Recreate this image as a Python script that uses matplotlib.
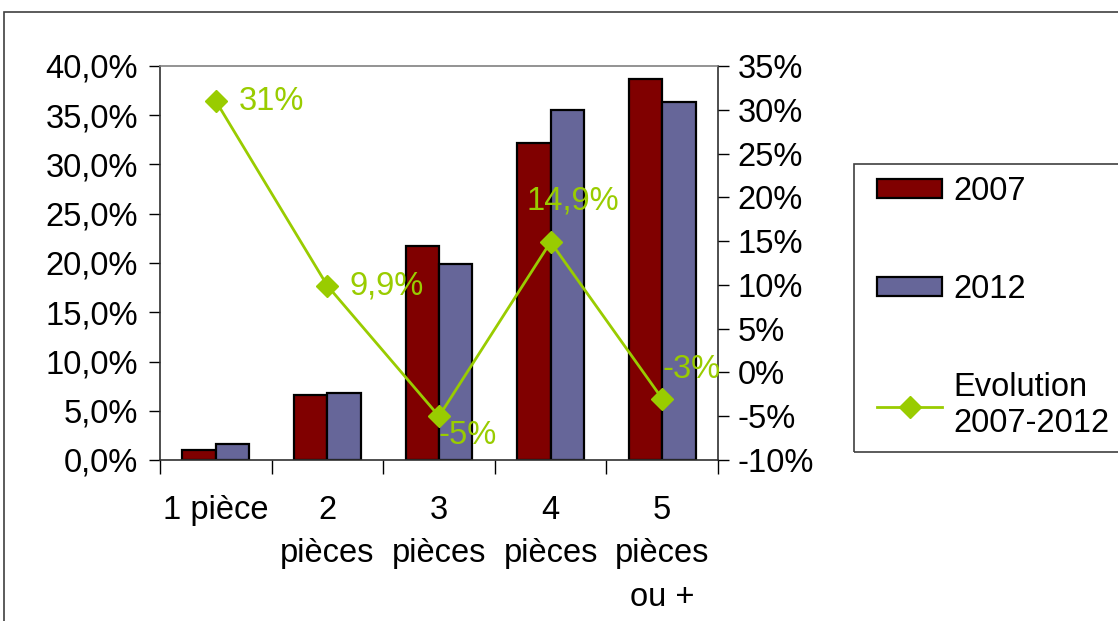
import matplotlib
matplotlib.use("Agg")
import matplotlib.pyplot as plt
import matplotlib.patches as mpatches
from matplotlib.lines import Line2D
from matplotlib.ticker import FuncFormatter
import numpy as np

plt.rcParams["font.family"] = ["Liberation Sans", "DejaVu Sans"]

categories = ["1 pièce", "2\npièces", "3\npièces", "4\npièces", "5\npièces\nou +"]
share_2007 = [1.0, 6.6, 21.7, 32.2, 38.7]
share_2012 = [1.6, 6.8, 19.9, 35.5, 36.3]
evolution = [31.0, 9.9, -5.0, 14.9, -3.0]
evolution_labels = ["31%", "9,9%", "-5%", "14,9%", "-3%"]
# label offsets in pixels (dx, dy)
label_pos = [(23, 0), (22, 0), (0, -19), (-24, 41), (0, 29)]

C2007 = "#800000"
C2012 = "#666699"
CEVO = "#99CC00"
FS = 23.5

fig = plt.figure(figsize=(11.18, 6.21), dpi=100)

# outer frame of the chart area
fig.patches.append(mpatches.Rectangle((4 / 1118, -0.1), 1.2, 1.1 - 12 / 621,
                                      transform=fig.transFigure, fill=False,
                                      edgecolor="#404040", linewidth=1.2))

ax = fig.add_axes([160 / 1118, 1 - 460 / 621, 558 / 1118, 394 / 621])
x = np.arange(len(categories))
w = 0.3
ax.bar(x - w / 2, share_2007, w, color=C2007, edgecolor="black", linewidth=1.6, zorder=2)
ax.bar(x + w / 2, share_2012, w, color=C2012, edgecolor="black", linewidth=1.6, zorder=2)
ax.set_ylim(0, 40)
ax.set_yticks(np.arange(0, 45, 5))
ax.yaxis.set_major_formatter(FuncFormatter(lambda v, p: f"{v:.1f}%".replace(".", ",")))
ax.set_xlim(-0.5, len(categories) - 0.5)
ax.set_xticks(np.arange(-0.5, len(categories), 1))
ax.set_xticklabels([])
ax.set_xticks(x, minor=True)
ax.set_xticklabels(categories, minor=True, fontsize=FS, linespacing=1.52, va="top")
ax.tick_params(axis="x", which="major", length=10, width=1, direction="out")
ax.tick_params(axis="x", which="minor", length=0, pad=25)
ax.tick_params(axis="y", labelsize=FS, length=8, width=1, direction="out", pad=8)
for s in ["left", "bottom", "right"]:
    ax.spines[s].set_color("#303030")
    ax.spines[s].set_linewidth(1.2)
ax.spines["top"].set_color("#808080")
ax.spines["top"].set_linewidth(1.2)

ax2 = ax.twinx()
ax2.plot(x, evolution, color=CEVO, linewidth=2, marker="D", markersize=11, zorder=3)
ax2.set_ylim(-10, 35)
ax2.set_yticks(np.arange(-10, 40, 5))
ax2.yaxis.set_major_formatter(FuncFormatter(lambda v, p: f"{v:.0f}%"))
ax2.tick_params(axis="y", labelsize=FS, length=8, width=1, direction="out", pad=6)
for s in ax2.spines.values():
    s.set_visible(False)

for xi, yi, lab, (dx, dy) in zip(x, evolution, evolution_labels, label_pos):
    ax2.annotate(lab, (xi, yi), xytext=(dx, dy), textcoords="offset pixels",
                 ha="left", va="center", fontsize=FS, color=CEVO)

# legend
fig.patches.append(mpatches.Rectangle((854 / 1118, 1 - 452 / 621), 0.3, 288 / 621,
                                      transform=fig.transFigure, fill=False,
                                      edgecolor="#404040", linewidth=1.2))
handles = [mpatches.Patch(facecolor=C2007, edgecolor="black", linewidth=1.6),
           mpatches.Patch(facecolor=C2012, edgecolor="black", linewidth=1.6),
           Line2D([], [], color=CEVO, linewidth=2, marker="D", markersize=11)]
fig.legend(handles, ["2007", "2012", "Evolution\n2007-2012"],
           loc="upper left", bbox_to_anchor=(877 / 1118, 1 - 176 / 621),
           frameon=False, fontsize=FS, borderpad=0, borderaxespad=0,
           handlelength=2.0, handleheight=0.5, handletextpad=0.35,
           labelspacing=2.05)

fig.savefig("out.png", dpi=100)
